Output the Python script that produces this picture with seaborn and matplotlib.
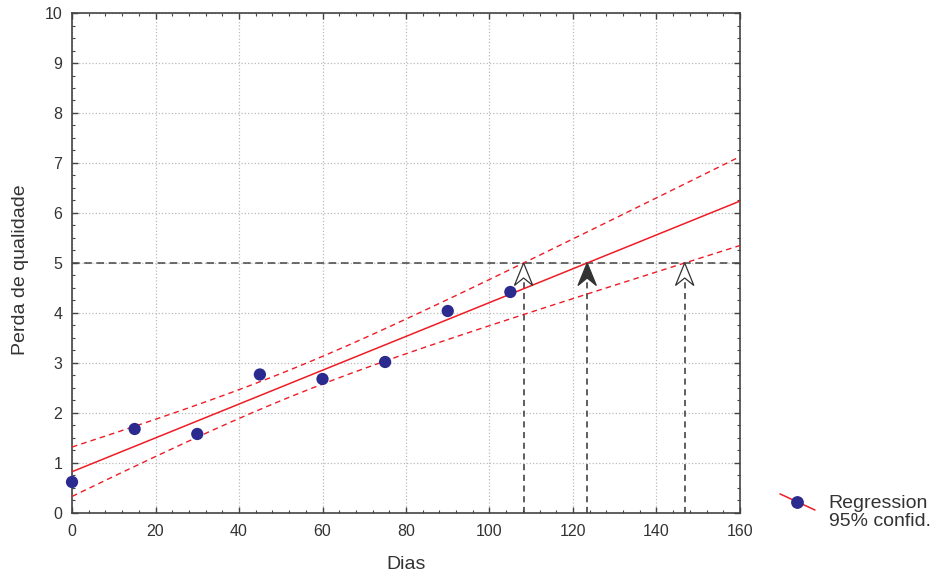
import numpy as np
import pandas as pd
import matplotlib
matplotlib.use('Agg')
import matplotlib.pyplot as plt
import seaborn as sns
from matplotlib.lines import Line2D
from matplotlib.patches import Polygon
from matplotlib.legend_handler import HandlerBase
from matplotlib.ticker import MultipleLocator

# Data
dias = [0, 15, 30, 45, 60, 75, 90, 105]
perda = [0.62, 1.68, 1.58, 2.77, 2.68, 3.02, 4.04, 4.42]
limite = 5.0
x_ticks = [0, 20, 40, 60, 80, 100, 120, 140, 160]
y_ticks = [0, 1, 2, 3, 4, 5, 6, 7, 8, 9, 10]

df = pd.DataFrame({'Dias': dias, 'Perda': perda})

# Linear regression + 95% confidence band of the mean
x = np.array(dias, dtype=float)
y = np.array(perda)
slope, intercept = np.polyfit(x, y, 1)
n = len(x)
resid = y - (intercept + slope * x)
s = np.sqrt((resid ** 2).sum() / (n - 2))
t_crit = 2.447  # t(0.975, df=6)
xs = np.linspace(0, 160, 1601)
fit = intercept + slope * xs
se = s * np.sqrt(1 / n + (xs - x.mean()) ** 2 / ((x - x.mean()) ** 2).sum())
band = pd.DataFrame({'x': xs, 'fit': fit, 'upper': fit + t_crit * se, 'lower': fit - t_crit * se})

# x where each curve reaches the limit
x_up = np.interp(limite, band['upper'], xs)
x_fit = np.interp(limite, band['fit'], xs)
x_low = np.interp(limite, band['lower'], xs)

sns.set_style('ticks')
plt.rcParams['font.family'] = ['Liberation Sans', 'DejaVu Sans']
txt = '#333333'

fig = plt.figure(figsize=(9.33, 5.78), dpi=100)
ax = fig.add_axes([0.0772, 0.1125, 0.7159, 0.865])

red = '#ee1c25'
blue = '#2b2a8e'
sns.lineplot(data=band, x='x', y='fit', ax=ax, color=red, lw=1.1, zorder=3)
sns.lineplot(data=band, x='x', y='upper', ax=ax, color=red, lw=1.0, zorder=3,
             linestyle=(0, (4, 3)))
sns.lineplot(data=band, x='x', y='lower', ax=ax, color=red, lw=1.0, zorder=3,
             linestyle=(0, (4, 3)))
sns.scatterplot(data=df, x='Dias', y='Perda', ax=ax, color=blue, s=78,
                edgecolor='none', zorder=4, clip_on=False)

# limit line and arrows
ax.axhline(limite, color='#444444', lw=1.1, linestyle=(0, (5, 3)), zorder=2)
head_w, head_h, notch = 2.2, 0.45, 0.30
for xa, filled in [(x_up, False), (x_fit, True), (x_low, False)]:
    ax.vlines(xa, 0, limite - notch, color='#333333', lw=1.1,
              linestyle=(0, (4, 3)), zorder=2)
    pts = [(xa, limite), (xa - head_w, limite - head_h), (xa, limite - notch),
           (xa + head_w, limite - head_h)]
    ax.add_patch(Polygon(pts, closed=True, facecolor='#333333' if filled else 'white',
                         edgecolor='#333333', lw=0.9, zorder=5))

ax.set_xlim(0, 160)
ax.set_ylim(0, 10)
ax.set_xticks(x_ticks)
ax.set_yticks(y_ticks)
ax.xaxis.set_minor_locator(MultipleLocator(4))
ax.yaxis.set_minor_locator(MultipleLocator(0.25))
ax.tick_params(which='both', direction='in', top=True, right=True, color='#444444')
ax.tick_params(which='major', length=4, width=1, labelsize=11.5, labelcolor=txt)
ax.tick_params(axis='x', which='major', pad=8)
ax.tick_params(axis='y', which='major', pad=7)
ax.tick_params(which='minor', length=2.5, width=0.8)
for sp in ax.spines.values():
    sp.set_color('#444444')
    sp.set_linewidth(1.2)
ax.grid(True, which='major', color='#bbbbbb', linestyle=':', lw=0.9)
ax.set_axisbelow(True)
ax.set_xlabel('Dias', fontsize=14, color=txt, labelpad=12)
ax.set_ylabel('Perda de qualidade', fontsize=14, color=txt, labelpad=11.5)
ax.yaxis.label.set_y(0.486)


class DiagHandler(HandlerBase):
    def create_artists(self, legend, orig, xd, yd, w, h, fs, trans):
        cy = h / 2 - yd + 7.5
        ln = Line2D([-xd, w - xd], [cy + 5.8, cy - 5.8], color=red, lw=1.1, transform=trans)
        dot = Line2D([w / 2 - xd], [cy], marker='o', markersize=8.2, color=blue,
                     lw=0, transform=trans)
        return [ln, dot]


handle = Line2D([], [])
leg = fig.legend([handle], ['Regression\n95% confid.'], handler_map={Line2D: DiagHandler()},
                 loc='center left', bbox_to_anchor=(0.836, 0.113), frameon=False,
                 fontsize=14, labelcolor=txt, handlelength=1.8, handletextpad=0.7,
                 borderpad=0, borderaxespad=0)
for t in leg.get_texts():
    t.set_linespacing(1.05)

fig.savefig('out.png', dpi=100)
